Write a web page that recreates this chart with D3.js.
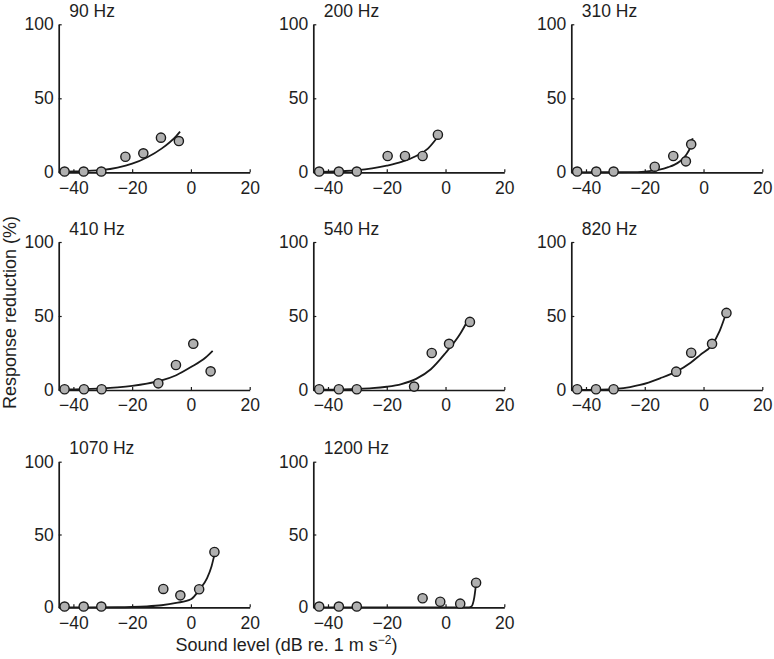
<!DOCTYPE html>
<html>
<head>
<meta charset="utf-8">
<script src="https://cdn.jsdelivr.net/npm/d3@7"></script>
<style>
  html, body { margin: 0; padding: 0; background: #fff; }
  svg { display: block; }
  text { font-family: "Liberation Sans", Arial, sans-serif; fill: #1e1e1e; }
</style>
</head>
<body>
<svg id="chart" width="774" height="659"></svg>
<script>
// ---- data ----
const titles = ["90 Hz", "200 Hz", "310 Hz", "410 Hz", "540 Hz", "820 Hz", "1070 Hz", "1200 Hz"];
const xTicks = [-40, -20, 0, 20];
const yTicks = [0, 50, 100];

// measured points (sound level dB, response reduction %)
const pointX = [
  [-43, -36.5, -30.5, -22.3, -16.2, -10.2, -4.1],
  [-43, -36.3, -30.2, -19.7, -13.8, -7.8, -2.6],
  [-43, -36.5, -30.6, -16.6, -10.3, -6.0, -4.2],
  [-43, -36.4, -30.4, -11.1, -5.1, 0.8, 6.7],
  [-43, -36.3, -30.2, -10.7, -4.7, 1.2, 8.3],
  [-43, -36.6, -30.6, -9.3, -4.2, 2.9, 7.8],
  [-43, -36.5, -30.5, -9.4, -3.6, 2.8, 8.0],
  [-43, -36.3, -30.2, -7.8, -1.8, 5.0, 10.4]
];
const pointY = [
  [0.5, 0.5, 0.5, 10.5, 12.8, 23.4, 21.1],
  [0.5, 0.5, 0.5, 11.0, 11.0, 11.0, 25.4],
  [0.5, 0.5, 0.5, 3.8, 11.0, 7.4, 18.9],
  [0.5, 0.5, 0.5, 4.5, 16.9, 31.2, 12.6],
  [0.5, 0.5, 0.5, 2.3, 25.0, 31.2, 46.0],
  [0.5, 0.5, 0.5, 12.4, 25.2, 31.2, 52.1],
  [0.5, 0.5, 0.5, 12.6, 8.2, 12.4, 38.0],
  [0.5, 0.5, 0.5, 6.2, 3.8, 2.5, 16.9]
];

// fitted curves
const curveX = [
  [-45, -40, -35, -30, -25, -20, -15, -10, -5, -3.7],
  [-45, -40, -35, -30, -25, -20, -15, -10, -6, -3],
  [-45, -25, -20, -15, -12, -10, -8, -6, -4.5, -3.7],
  [-45, -40, -35, -30, -25, -20, -15, -10, -5, 0, 5, 7.4],
  [-45, -40, -35, -30, -25, -20, -15, -10, -5, 0, 5, 8.1],
  [-45, -35, -30, -25, -21.6, -14.8, -9.3, -4.4, -1.2, 2.8, 5.5, 8.1],
  [-45, -25, -20, -15, -10, -5, 0, 3, 5.5, 7, 8, 8.8],
  [-45, 8, 8.8, 9.3, 9.8, 10.2, 10.6]
];
const curveY = [
  [0.3, 0.6, 1.0, 1.6, 3.2, 5.8, 10, 16, 24.5, 27.5],
  [0.2, 0.4, 0.8, 1.4, 2.6, 4.5, 7, 11, 16, 23],
  [0, 0.1, 0.5, 1.8, 3.5, 5, 7.5, 11.5, 17, 23],
  [0.2, 0.4, 0.7, 1.1, 1.8, 2.8, 4.3, 6.5, 10, 15.5, 22, 26.5],
  [0.1, 0.2, 0.4, 0.7, 1.2, 2.2, 4, 7.5, 14, 25, 38, 49],
  [0, 0.3, 0.8, 2, 3.4, 7.9, 12.4, 18.4, 23.6, 30.3, 40, 54.4],
  [0, 0.05, 0.2, 0.6, 1.4, 3, 5.5, 12.5, 20, 28, 36, 41],
  [0, 0, 0.5, 2.5, 7, 13, 19.5]
];

// ---- layout ----
const colLeft = [58.7, 313.3, 571.3];
const rowBottom = [172.3, 390, 607.3];
const rowTop = [24.3, 242, 461.7];
const plotW = 191;

const svg = d3.select("#chart");
const fmt = d => (d < 0 ? "\u2212" + Math.abs(d) : String(d));
const ink = "#1a1a1a";
const fs = 17.5;

titles.forEach((title, i) => {
  const col = i % 3, row = Math.floor(i / 3);
  const left = colLeft[col], bottom = rowBottom[row], top = rowTop[row];
  const x = d3.scaleLinear().domain([-45, 20]).range([left, left + plotW]);
  const y = d3.scaleLinear().domain([0, 100]).range([bottom, top]);
  const g = svg.append("g");

  // x axis
  const xa = g.append("g").attr("transform", `translate(0,${bottom})`)
    .call(d3.axisBottom(x).tickValues(xTicks).tickSize(-3).tickSizeOuter(0).tickPadding(7).tickFormat(fmt));
  xa.select(".domain").attr("stroke", ink).attr("stroke-width", 1.7);
  xa.selectAll(".tick line").attr("stroke", ink).attr("stroke-width", 1.2);
  xa.selectAll(".tick text").attr("font-size", fs).attr("font-family", "Liberation Sans, Arial, sans-serif").attr("fill", ink).attr("dy", "0.71em").attr("y", 9);

  // y axis
  const ya = g.append("g").attr("transform", `translate(${left},0)`)
    .call(d3.axisLeft(y).tickValues(yTicks).tickSize(-3).tickSizeOuter(0).tickPadding(6).tickFormat(fmt));
  ya.select(".domain").attr("stroke", ink).attr("stroke-width", 1.7);
  ya.selectAll(".tick line").attr("stroke", ink).attr("stroke-width", 1.2);
  ya.selectAll(".tick text").attr("font-size", fs).attr("font-family", "Liberation Sans, Arial, sans-serif").attr("fill", ink).attr("x", -5);

  // title
  g.append("text").attr("x", left + 10.5).attr("y", top - 7.5)
    .attr("font-size", fs).attr("fill", ink).text(title);

  // curve
  const pts = curveX[i].map((cx, k) => [cx, curveY[i][k]]);
  g.append("path").datum(pts)
    .attr("fill", "none").attr("stroke", ink).attr("stroke-width", 1.8)
    .attr("d", d3.line().x(d => x(d[0])).y(d => y(d[1])).curve(d3.curveMonotoneX));

  // points
  g.selectAll("circle.pt").data(pointX[i].map((px, k) => [px, pointY[i][k]]))
    .enter().append("circle").attr("class", "pt")
    .attr("cx", d => x(d[0])).attr("cy", d => y(d[1])).attr("r", 4.6)
    .attr("fill", "#b0b0b0").attr("stroke", ink).attr("stroke-width", 1.4);
});

// axis titles
svg.append("text").attr("transform", "translate(16,312.5) rotate(-90)")
  .attr("text-anchor", "middle").attr("font-size", 18).attr("fill", ink).text("Response reduction (%)");

const xl = svg.append("text").attr("x", 286.5).attr("y", 650.5)
  .attr("text-anchor", "middle").attr("font-size", 18).attr("fill", ink);
xl.append("tspan").text("Sound level (dB re. 1 m s");
xl.append("tspan").attr("font-size", 12).attr("dy", -7).text("\u22122");
xl.append("tspan").attr("dy", 7).text(")");
</script>
</body>
</html>
